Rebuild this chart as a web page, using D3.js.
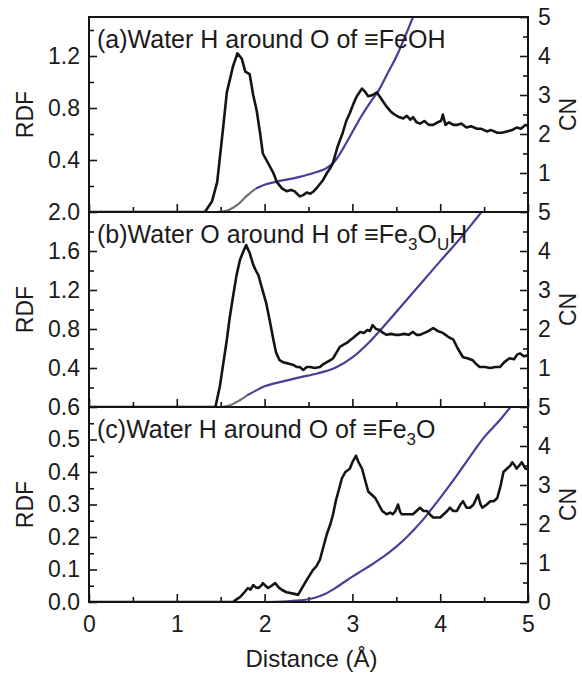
<!DOCTYPE html>
<html>
<head>
<meta charset="utf-8">
<script src="https://cdn.jsdelivr.net/npm/d3@7"></script>
<style>
  body { margin: 0; background: #fff; }
  text { font-family: "Liberation Sans", Arial, sans-serif; fill: #1b1b1b; }
</style>
</head>
<body>
<svg id="chart" width="582" height="679"></svg>
<script>
// ---- data ----
const xTicks = [0, 1, 2, 3, 4, 5];
const xMinor = [0.5, 1.5, 2.5, 3.5, 4.5];

// (a) water H around O of =FeOH
const distA = [0, 1.32, 1.40, 1.46, 1.52, 1.57, 1.64, 1.69, 1.74, 1.78, 1.83, 1.87, 1.91, 1.95, 1.98, 2.02, 2.06, 2.10, 2.14, 2.20, 2.25, 2.30, 2.34, 2.40, 2.44, 2.48, 2.52, 2.56, 2.60, 2.66, 2.71, 2.75, 2.78, 2.83, 2.89, 2.93, 2.97, 3.01, 3.05, 3.11, 3.15, 3.18, 3.23, 3.28, 3.33, 3.39, 3.44, 3.48, 3.53, 3.58, 3.62, 3.66, 3.69, 3.73, 3.77, 3.82, 3.87, 3.92, 3.97, 4.01, 4.03, 4.06, 4.10, 4.15, 4.19, 4.24, 4.30, 4.35, 4.42, 4.47, 4.53, 4.58, 4.65, 4.70, 4.76, 4.82, 4.87, 4.92, 4.97, 5.0];
const rdfA = [0, 0, 0.08, 0.23, 0.6, 0.92, 1.12, 1.22, 1.18, 1.08, 1.06, 0.9, 0.78, 0.6, 0.45, 0.4, 0.35, 0.3, 0.23, 0.18, 0.16, 0.17, 0.16, 0.12, 0.13, 0.15, 0.14, 0.16, 0.19, 0.24, 0.3, 0.34, 0.38, 0.5, 0.61, 0.7, 0.76, 0.83, 0.89, 0.95, 0.92, 0.89, 0.9, 0.92, 0.87, 0.81, 0.77, 0.75, 0.73, 0.72, 0.74, 0.71, 0.73, 0.69, 0.68, 0.70, 0.67, 0.67, 0.69, 0.70, 0.75, 0.67, 0.69, 0.67, 0.67, 0.68, 0.65, 0.66, 0.64, 0.64, 0.62, 0.63, 0.61, 0.61, 0.62, 0.63, 0.65, 0.64, 0.67, 0.66];
const cnDistA = [1.45, 1.5, 1.6, 1.7, 1.8, 1.9, 2.0, 2.1, 2.2, 2.3, 2.4, 2.5, 2.6, 2.7, 2.8, 2.9, 3.0, 3.1, 3.2, 3.3, 3.4, 3.5, 3.6, 3.7];
const cnA = [0, 0.01, 0.06, 0.2, 0.42, 0.6, 0.7, 0.76, 0.81, 0.85, 0.9, 0.96, 1.03, 1.12, 1.3, 1.65, 2.05, 2.45, 2.8, 3.12, 3.55, 3.98, 4.5, 5.05];

// (b) water O around H of =Fe3OuH
const distB = [0, 1.44, 1.49, 1.53, 1.57, 1.60, 1.64, 1.68, 1.72, 1.76, 1.79, 1.83, 1.87, 1.90, 1.93, 1.97, 2.02, 2.06, 2.10, 2.13, 2.17, 2.21, 2.25, 2.29, 2.33, 2.37, 2.40, 2.44, 2.48, 2.52, 2.57, 2.63, 2.67, 2.71, 2.75, 2.78, 2.82, 2.86, 2.90, 2.94, 2.98, 3.01, 3.05, 3.09, 3.13, 3.17, 3.20, 3.23, 3.27, 3.31, 3.35, 3.39, 3.44, 3.49, 3.54, 3.59, 3.64, 3.69, 3.73, 3.77, 3.82, 3.87, 3.92, 3.97, 4.03, 4.09, 4.15, 4.20, 4.26, 4.31, 4.37, 4.41, 4.45, 4.51, 4.57, 4.63, 4.68, 4.73, 4.79, 4.84, 4.88, 4.91, 4.95, 5.0];
const rdfB = [0, 0, 0.21, 0.45, 0.69, 0.9, 1.13, 1.35, 1.51, 1.6, 1.66, 1.58, 1.46, 1.4, 1.35, 1.22, 1.06, 0.88, 0.69, 0.56, 0.48, 0.46, 0.45, 0.44, 0.43, 0.41, 0.41, 0.38, 0.41, 0.41, 0.40, 0.41, 0.44, 0.46, 0.48, 0.50, 0.56, 0.62, 0.64, 0.66, 0.69, 0.71, 0.74, 0.77, 0.76, 0.79, 0.78, 0.84, 0.80, 0.79, 0.76, 0.74, 0.75, 0.74, 0.74, 0.75, 0.74, 0.77, 0.74, 0.74, 0.76, 0.78, 0.81, 0.78, 0.76, 0.72, 0.69, 0.6, 0.51, 0.50, 0.48, 0.44, 0.41, 0.41, 0.40, 0.41, 0.41, 0.46, 0.50, 0.49, 0.54, 0.55, 0.52, 0.53];
const cnDistB = [1.5, 1.6, 1.7, 1.8, 1.9, 2.0, 2.1, 2.2, 2.4, 2.6, 2.8, 3.0, 3.2, 3.4, 3.6, 3.8, 4.0, 4.2, 4.4, 4.5];
const cnB = [0, 0.04, 0.15, 0.3, 0.42, 0.53, 0.6, 0.65, 0.76, 0.86, 1.0, 1.27, 1.68, 2.18, 2.7, 3.22, 3.74, 4.25, 4.8, 5.08];

// (c) water H around O of =Fe3O
const distC = [0, 1.64, 1.68, 1.72, 1.77, 1.81, 1.84, 1.87, 1.90, 1.93, 1.96, 1.98, 2.01, 2.04, 2.08, 2.12, 2.16, 2.20, 2.25, 2.29, 2.34, 2.38, 2.42, 2.48, 2.55, 2.59, 2.63, 2.67, 2.71, 2.75, 2.78, 2.81, 2.84, 2.88, 2.92, 2.97, 3.00, 3.04, 3.07, 3.11, 3.15, 3.18, 3.22, 3.26, 3.30, 3.34, 3.39, 3.43, 3.46, 3.49, 3.52, 3.54, 3.56, 3.60, 3.65, 3.69, 3.73, 3.77, 3.81, 3.85, 3.88, 3.92, 3.96, 4.00, 4.04, 4.08, 4.11, 4.15, 4.19, 4.23, 4.26, 4.30, 4.34, 4.38, 4.43, 4.46, 4.48, 4.53, 4.57, 4.61, 4.65, 4.69, 4.72, 4.76, 4.80, 4.82, 4.85, 4.87, 4.90, 4.93, 4.97, 5.0];
const rdfC = [0, 0, 0.008, 0.015, 0.03, 0.043, 0.038, 0.052, 0.045, 0.043, 0.05, 0.058, 0.05, 0.043, 0.05, 0.058, 0.045, 0.037, 0.03, 0.028, 0.025, 0.022, 0.04, 0.068, 0.098, 0.11, 0.13, 0.17, 0.21, 0.24, 0.27, 0.31, 0.34, 0.38, 0.40, 0.41, 0.43, 0.45, 0.43, 0.41, 0.37, 0.34, 0.33, 0.32, 0.30, 0.28, 0.27, 0.275, 0.27, 0.28, 0.30, 0.28, 0.27, 0.27, 0.27, 0.27, 0.28, 0.29, 0.28, 0.28, 0.27, 0.26, 0.26, 0.26, 0.27, 0.28, 0.29, 0.28, 0.28, 0.30, 0.31, 0.29, 0.29, 0.30, 0.33, 0.30, 0.29, 0.30, 0.31, 0.31, 0.32, 0.36, 0.40, 0.41, 0.42, 0.43, 0.42, 0.41, 0.42, 0.43, 0.41, 0.41];
const cnDistC = [2.0, 2.2, 2.4, 2.5, 2.6, 2.7, 2.8, 2.9, 3.0, 3.1, 3.2, 3.3, 3.4, 3.5, 3.6, 3.7, 3.8, 3.9, 4.0, 4.1, 4.2, 4.3, 4.4, 4.5, 4.6, 4.7, 4.8, 4.9];
const cnC = [0, 0.01, 0.04, 0.07, 0.13, 0.22, 0.35, 0.5, 0.65, 0.79, 0.93, 1.08, 1.24, 1.42, 1.62, 1.85, 2.1, 2.38, 2.67, 2.97, 3.28, 3.6, 3.92, 4.22, 4.47, 4.72, 5.0, 5.3];

// CN curve drawn grey up to this distance, blue after
const greyUntilA = 1.9, greyUntilB = 1.85, greyUntilC = 0;

const rdfMaxA = 1.5, rdfMaxB = 2.0, rdfMaxC = 0.6;
const rdfTicksA = [0.4, 0.8, 1.2], rdfMinorA = [0.2, 0.6, 1.0, 1.4];
const rdfTicksB = [0.4, 0.8, 1.2, 1.6, 2.0], rdfMinorB = [0.2, 0.6, 1.0, 1.4, 1.8];
const rdfTicksC = [0, 0.1, 0.2, 0.3, 0.4, 0.5, 0.6], rdfMinorC = [0.05, 0.15, 0.25, 0.35, 0.45, 0.55];
const cnMax = 5;
const cnTicksAB = [1, 2, 3, 4, 5], cnTicksC = [0, 1, 2, 3, 4, 5];
const cnMinor = [0.5, 1.5, 2.5, 3.5, 4.5];

// title pieces: [text, isSubscript]
const titleA = [['(a)Water H around O of \u2261FeOH', false]];
const titleB = [['(b)Water O around H of \u2261Fe', false], ['3', true], ['O', false], ['U', true], ['H', false]];
const titleC = [['(c)Water H around O of \u2261Fe', false], ['3', true], ['O', false]];

const panels = [
  { dist: distA, rdf: rdfA, cnDist: cnDistA, cn: cnA, grey: greyUntilA, rdfMax: rdfMaxA, rdfTicks: rdfTicksA, rdfMinor: rdfMinorA, cnTicks: cnTicksAB, title: titleA },
  { dist: distB, rdf: rdfB, cnDist: cnDistB, cn: cnB, grey: greyUntilB, rdfMax: rdfMaxB, rdfTicks: rdfTicksB, rdfMinor: rdfMinorB, cnTicks: cnTicksAB, title: titleB },
  { dist: distC, rdf: rdfC, cnDist: cnDistC, cn: cnC, grey: greyUntilC, rdfMax: rdfMaxC, rdfTicks: rdfTicksC, rdfMinor: rdfMinorC, cnTicks: cnTicksC, title: titleC }
];

// ---- layout ----
const svg = d3.select('#chart');
const padL = 89, padR = 528, padT = 17, panelH = 195;
const BLUE = '#463f98', GREY = '#707070', INK = '#141414';

const x = d3.scaleLinear().domain([0, 5]).range([padL, padR]);

const defs = svg.append('defs');

panels.forEach((p, i) => {
  const y0 = padT + i * panelH, y1 = y0 + panelH;
  const yR = d3.scaleLinear().domain([0, p.rdfMax]).range([y1, y0]);
  const yC = d3.scaleLinear().domain([0, cnMax]).range([y1, y0]);
  const g = svg.append('g').attr('class', 'panel');

  defs.append('clipPath').attr('id', 'clip' + i)
    .append('rect').attr('x', padL).attr('y', y0).attr('width', padR - padL).attr('height', panelH);

  // ticks (inward)
  const tickStyle = sel => {
    sel.select('.domain').remove();
    sel.selectAll('line').attr('stroke', INK).attr('stroke-width', 1.6);
    sel.selectAll('text').attr('font-size', '23px').attr('fill', INK);
  };
  g.append('g').attr('transform', `translate(${padL},0)`)
    .call(d3.axisLeft(yR).tickValues(p.rdfTicks).tickSize(-8).tickPadding(9).tickFormat(d3.format('.1f')))
    .call(tickStyle);
  g.append('g').attr('transform', `translate(${padL},0)`)
    .call(d3.axisLeft(yR).tickValues(p.rdfMinor).tickSize(-5).tickFormat(''))
    .call(tickStyle);
  g.append('g').attr('transform', `translate(${padR},0)`)
    .call(d3.axisRight(yC).tickValues(p.cnTicks).tickSize(-8).tickPadding(10).tickFormat(d3.format('d')))
    .call(tickStyle);
  g.append('g').attr('transform', `translate(${padR},0)`)
    .call(d3.axisRight(yC).tickValues(cnMinor).tickSize(-5).tickFormat(''))
    .call(tickStyle);
  const isLast = i === panels.length - 1;
  g.append('g').attr('transform', `translate(0,${y1})`)
    .call(d3.axisBottom(x).tickValues(xTicks).tickSize(-8).tickPadding(14).tickFormat(isLast ? d3.format('d') : ''))
    .call(tickStyle);
  g.append('g').attr('transform', `translate(0,${y1})`)
    .call(d3.axisBottom(x).tickValues(xMinor).tickSize(-5).tickFormat(''))
    .call(tickStyle);

  // curves
  const plot = g.append('g').attr('clip-path', `url(#clip${i})`);
  const cnPts = p.cnDist.map((d, k) => [d, p.cn[k]]);
  const cnLine = d3.line().x(d => x(d[0])).y(d => yC(d[1])).curve(d3.curveMonotoneX);
  const greyPts = cnPts.filter(d => d[0] <= p.grey);
  const bluePts = cnPts.filter(d => d[0] >= (greyPts.length ? greyPts[greyPts.length - 1][0] : -1));
  if (greyPts.length > 1) {
    plot.append('path').attr('d', cnLine(greyPts)).attr('fill', 'none')
      .attr('stroke', GREY).attr('stroke-width', 2.2);
  }
  plot.append('path').attr('d', cnLine(bluePts)).attr('fill', 'none')
    .attr('stroke', BLUE).attr('stroke-width', 2.2);

  const rdfLine = d3.line().x(d => x(d)).y((d, k) => yR(p.rdf[k]));
  plot.append('path').attr('d', rdfLine(p.dist)).attr('fill', 'none')
    .attr('stroke', INK).attr('stroke-width', 2.6).attr('stroke-linejoin', 'round');

  // frame
  g.append('rect').attr('x', padL).attr('y', y0).attr('width', padR - padL).attr('height', panelH)
    .attr('fill', 'none').attr('stroke', INK).attr('stroke-width', 2);

  // title
  const t = g.append('text').attr('x', padL + 8).attr('y', y0 + 31).attr('font-size', '25px');
  p.title.forEach(([s, sub], k) => {
    const ts = t.append('tspan').text(s);
    if (sub) ts.attr('font-size', '17px').attr('dy', 7);
    else if (k > 0) ts.attr('dy', -7);
  });

  // axis titles
  g.append('text').attr('transform', `translate(33,${(y0 + y1) / 2}) rotate(-90)`)
    .attr('text-anchor', 'middle').attr('font-size', '23px').text('RDF');
  g.append('text').attr('transform', `translate(576,${(y0 + y1) / 2}) rotate(-90)`)
    .attr('text-anchor', 'middle').attr('font-size', '23px').text('CN');
});

svg.append('text').attr('x', (padL + padR) / 2 + 3).attr('y', 667)
  .attr('text-anchor', 'middle').attr('font-size', '24px').text('Distance (\u00c5)');
</script>
</body>
</html>
